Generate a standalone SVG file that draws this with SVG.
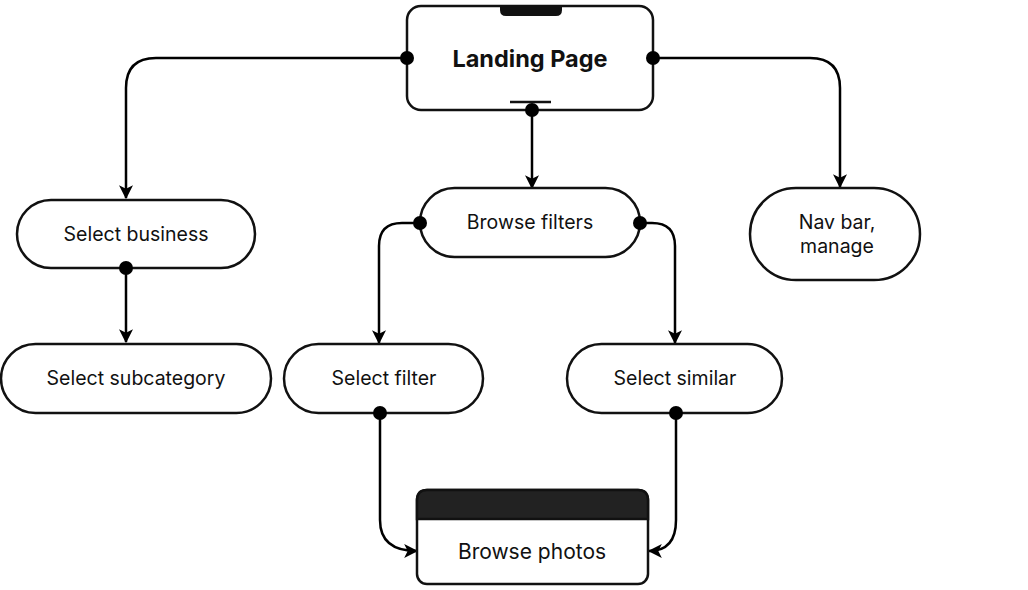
<svg xmlns="http://www.w3.org/2000/svg" width="1028" height="590" viewBox="0 0 1028 590">
<style>
.n{fill:#fff;stroke:#111;stroke-width:2.5}
.t{font-family:Inter,"Liberation Sans",sans-serif;font-size:19.5px;fill:#111;text-anchor:middle}
.b{font-weight:700;font-size:23.5px}
.p{font-size:21px}
.c{fill:none;stroke:#000;stroke-width:2.5}
.d{fill:#000}
</style>
<defs>
<marker id="ar" viewBox="0 0 12 12" refX="11" refY="6" markerWidth="14" markerHeight="14" markerUnits="userSpaceOnUse" orient="auto">
<path d="M0,0 L12,6 L0,12 L3,6 Z" fill="#000"/>
</marker>
</defs>
<rect width="1028" height="590" fill="#fff"/>
<g id="connectors">
<path class="c" d="M407,58 H156 Q126,58 126,88 V198" marker-end="url(#ar)"/>
<path class="c" d="M653,58 H810 Q840,58 840,88 V187" marker-end="url(#ar)"/>
<path class="c" d="M532,110 V188" marker-end="url(#ar)"/>
<path class="c" d="M420,223 H402 Q379,223 379,246 V343" marker-end="url(#ar)"/>
<path class="c" d="M640,223 H652 Q675,223 675,246 V343" marker-end="url(#ar)"/>
<path class="c" d="M126,268 V342" marker-end="url(#ar)"/>
<path class="c" d="M380,413 V520 Q380,551 417,551" marker-end="url(#ar)"/>
<path class="c" d="M676,413 V520 Q676,551 649,551" marker-end="url(#ar)"/>
</g>
<g id="landing">
<rect class="n" x="407" y="6" width="246" height="104" rx="14"/>
<path d="M500,5 H562 V10 Q562,16 556,16 H506 Q500,16 500,10 Z" fill="#111"/>
<line x1="510" y1="102" x2="551" y2="102" stroke="#111" stroke-width="2.5"/>
<text class="t b" x="530" y="67">Landing Page</text>
</g>
<g id="business">
<rect class="n" x="17" y="200" width="238" height="68" rx="34"/>
<text class="t" x="136" y="241">Select business</text>
</g>
<g id="filters">
<rect class="n" x="420" y="188" width="220" height="69" rx="34.5"/>
<text class="t" x="530" y="229">Browse filters</text>
</g>
<g id="navbar">
<rect class="n" x="750" y="188" width="170" height="92" rx="46"/>
<text class="t" x="837" y="229">Nav bar,</text>
<text class="t" x="837" y="253">manage</text>
</g>
<g id="subcategory">
<rect class="n" x="1" y="344" width="270" height="69" rx="34.5"/>
<text class="t" x="136" y="385">Select subcategory</text>
</g>
<g id="selectfilter">
<rect class="n" x="284" y="344" width="199" height="69" rx="34.5"/>
<text class="t" x="384" y="385">Select filter</text>
</g>
<g id="similar">
<rect class="n" x="567" y="344" width="215" height="69" rx="34.5"/>
<text class="t" x="675" y="385">Select similar</text>
</g>
<g id="photos">
<rect class="n" x="417" y="490" width="231" height="94" rx="10"/>
<path d="M417,519 V500 Q417,490 427,490 H638 Q648,490 648,500 V519 Z" fill="#222" stroke="#111" stroke-width="2.5"/>
<text class="t p" x="532" y="559">Browse photos</text>
</g>
<g id="dots">
<circle class="d" cx="407" cy="58" r="7"/>
<circle class="d" cx="653" cy="58" r="7"/>
<circle class="d" cx="532" cy="110" r="7"/>
<circle class="d" cx="420" cy="223" r="7"/>
<circle class="d" cx="640" cy="223" r="7"/>
<circle class="d" cx="126" cy="268" r="7"/>
<circle class="d" cx="380" cy="413" r="7"/>
<circle class="d" cx="676" cy="413" r="7"/>
</g>
</svg>
